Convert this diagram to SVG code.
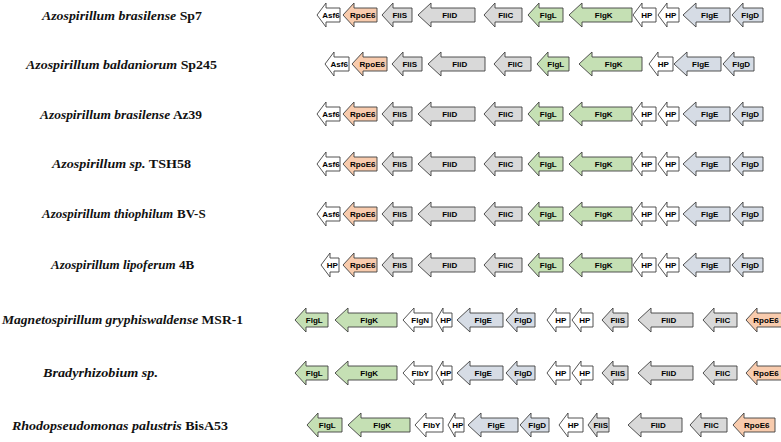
<svg xmlns="http://www.w3.org/2000/svg" width="781" height="442" viewBox="0 0 781 442">
<style>
.a{stroke:#404040;stroke-width:0.9;stroke-linejoin:miter}
.w{fill:#ffffff}.o{fill:#F8CBAD}.g{fill:#D9D9D9}.n{fill:#C5E0B4}.b{fill:#D6DCE5}
.t{font-family:"Liberation Sans",Arial,sans-serif;font-weight:bold;font-size:8px;fill:#000;text-anchor:middle}
.sp{font-family:"Liberation Serif","Times New Roman",serif;font-weight:bold;font-size:13px;fill:#111}
.i{font-style:italic}
</style>
<rect width="781" height="442" fill="#fff"/>
<g id="species-labels">
<text id="lab1" class="sp" x="42" y="20" textLength="160" lengthAdjust="spacingAndGlyphs"><tspan class="i">Azospirillum brasilense</tspan> Sp7</text>
<text id="lab2" class="sp" x="26" y="69" textLength="191" lengthAdjust="spacingAndGlyphs"><tspan class="i">Azospirillum baldaniorum</tspan> Sp245</text>
<text id="lab3" class="sp" x="40" y="119" textLength="162" lengthAdjust="spacingAndGlyphs"><tspan class="i">Azospirillum brasilense</tspan> Az39</text>
<text id="lab4" class="sp" x="52" y="168" textLength="139" lengthAdjust="spacingAndGlyphs"><tspan class="i">Azospirillum sp.</tspan> TSH58</text>
<text id="lab5a" class="sp i" x="42" y="218">Azospirillum thiophilum</text>
<text id="lab5b" class="sp" x="177" y="218">BV-S</text>
<text id="lab6a" class="sp i" x="51" y="269">Azospirillum lipoferum</text>
<text id="lab6b" class="sp" x="179" y="269">4B</text>
<text id="lab7" class="sp" x="2" y="324" textLength="241" lengthAdjust="spacingAndGlyphs"><tspan class="i">Magnetospirillum gryphiswaldense</tspan> MSR-1</text>
<text id="lab8" class="sp i" x="43" y="377" textLength="115" lengthAdjust="spacingAndGlyphs">Bradyrhizobium sp.</text>
<text id="lab9" class="sp" x="12" y="430" textLength="216" lengthAdjust="spacingAndGlyphs"><tspan class="i">Rhodopseudomonas palustris</tspan> BisA53</text>
</g>
<g id="connectors"/>

<g id="row1" transform="translate(0,15)">
<g id="r1-asf6"><path class="a w" d="M317,0 L326,-12 V-7 H340 V7 H326 V12 Z"/><text class="t" x="331" y="3">Asf6</text></g>
<g id="r1-rpoe6"><path class="a o" d="M343,0 L354,-12 V-7 H377 V7 H354 V12 Z"/><text class="t" x="362.75" y="3">RpoE6</text></g>
<g id="r1-flis"><path class="a g" d="M382,0 L393,-12 V-7 H412 V7 H393 V12 Z"/><text class="t" x="399.75" y="3">FliS</text></g>
<g id="r1-flid"><path class="a g" d="M418,0 L431,-12 V-7 H475 V7 H431 V12 Z"/><text class="t" x="449.75" y="3">FliD</text></g>
<g id="r1-flic"><path class="a g" d="M484,0 L495,-12 V-7 H522 V7 H495 V12 Z"/><text class="t" x="505.75" y="3">FliC</text></g>
<g id="r1-flgl"><path class="a n" d="M528,0 L539,-12 V-7 H563 V7 H539 V12 Z"/><text class="t" x="548.25" y="3">FlgL</text></g>
<g id="r1-flgk"><path class="a n" d="M569,0 L582,-12 V-7 H632 V7 H582 V12 Z"/><text class="t" x="603.75" y="3">FlgK</text></g>
<g id="r1-hp1"><path class="a w" d="M633,0 L642,-12 V-7 H656 V7 H642 V12 Z"/><text class="t" x="646.75" y="3">HP</text></g>
<g id="r1-hp2"><path class="a w" d="M658,0 L667,-12 V-7 H679 V7 H667 V12 Z"/><text class="t" x="670.75" y="3">HP</text></g>
<g id="r1-flge"><path class="a b" d="M683,0 L696,-12 V-7 H730 V7 H696 V12 Z"/><text class="t" x="709.75" y="3">FlgE</text></g>
<g id="r1-flgd"><path class="a b" d="M732,0 L743,-12 V-7 H763 V7 H743 V12 Z"/><text class="t" x="750.25" y="3">FlgD</text></g>
</g>

<g id="row2" transform="translate(0,64)">
<g id="r2-asf6"><path class="a w" d="M325,0 L334,-12 V-7 H349 V7 H334 V12 Z"/><text class="t" x="339.25" y="3">Asf6</text></g>
<g id="r2-rpoe6"><path class="a o" d="M352,0 L363,-12 V-7 H387 V7 H363 V12 Z"/><text class="t" x="372.25" y="3">RpoE6</text></g>
<g id="r2-flis"><path class="a g" d="M392,0 L403,-12 V-7 H422 V7 H403 V12 Z"/><text class="t" x="409.75" y="3">FliS</text></g>
<g id="r2-flid"><path class="a g" d="M428,0 L441,-12 V-7 H485 V7 H441 V12 Z"/><text class="t" x="459.75" y="3">FliD</text></g>
<g id="r2-flic"><path class="a g" d="M494,0 L505,-12 V-7 H531 V7 H505 V12 Z"/><text class="t" x="515.25" y="3">FliC</text></g>
<g id="r2-flgl"><path class="a n" d="M537,0 L548,-12 V-7 H569 V7 H548 V12 Z"/><text class="t" x="555.75" y="3">FlgL</text></g>
<g id="r2-flgk"><path class="a n" d="M579,0 L592,-12 V-7 H642 V7 H592 V12 Z"/><text class="t" x="613.75" y="3">FlgK</text></g>
<g id="r2-hp1"><path class="a w" d="M649,0 L658,-12 V-7 H673 V7 H658 V12 Z"/><text class="t" x="663.25" y="3">HP</text></g>
<g id="r2-flge"><path class="a b" d="M674,0 L687,-12 V-7 H721 V7 H687 V12 Z"/><text class="t" x="700.75" y="3">FlgE</text></g>
<g id="r2-flgd"><path class="a b" d="M723,0 L734,-12 V-7 H754 V7 H734 V12 Z"/><text class="t" x="741.25" y="3">FlgD</text></g>
</g>

<g id="row3" transform="translate(0,114)">
<g id="r3-asf6"><path class="a w" d="M317,0 L326,-12 V-7 H340 V7 H326 V12 Z"/><text class="t" x="331" y="3">Asf6</text></g>
<g id="r3-rpoe6"><path class="a o" d="M343,0 L354,-12 V-7 H377 V7 H354 V12 Z"/><text class="t" x="362.75" y="3">RpoE6</text></g>
<g id="r3-flis"><path class="a g" d="M382,0 L393,-12 V-7 H412 V7 H393 V12 Z"/><text class="t" x="399.75" y="3">FliS</text></g>
<g id="r3-flid"><path class="a g" d="M418,0 L431,-12 V-7 H475 V7 H431 V12 Z"/><text class="t" x="449.75" y="3">FliD</text></g>
<g id="r3-flic"><path class="a g" d="M484,0 L495,-12 V-7 H522 V7 H495 V12 Z"/><text class="t" x="505.75" y="3">FliC</text></g>
<g id="r3-flgl"><path class="a n" d="M528,0 L539,-12 V-7 H563 V7 H539 V12 Z"/><text class="t" x="548.25" y="3">FlgL</text></g>
<g id="r3-flgk"><path class="a n" d="M569,0 L582,-12 V-7 H632 V7 H582 V12 Z"/><text class="t" x="603.75" y="3">FlgK</text></g>
<g id="r3-hp1"><path class="a w" d="M633,0 L642,-12 V-7 H656 V7 H642 V12 Z"/><text class="t" x="646.75" y="3">HP</text></g>
<g id="r3-hp2"><path class="a w" d="M658,0 L667,-12 V-7 H679 V7 H667 V12 Z"/><text class="t" x="670.75" y="3">HP</text></g>
<g id="r3-flge"><path class="a b" d="M683,0 L696,-12 V-7 H730 V7 H696 V12 Z"/><text class="t" x="709.75" y="3">FlgE</text></g>
<g id="r3-flgd"><path class="a b" d="M732,0 L743,-12 V-7 H763 V7 H743 V12 Z"/><text class="t" x="750.25" y="3">FlgD</text></g>
</g>

<g id="row4" transform="translate(0,164)">
<g id="r4-asf6"><path class="a w" d="M317,0 L326,-12 V-7 H340 V7 H326 V12 Z"/><text class="t" x="331" y="3">Asf6</text></g>
<g id="r4-rpoe6"><path class="a o" d="M343,0 L354,-12 V-7 H377 V7 H354 V12 Z"/><text class="t" x="362.75" y="3">RpoE6</text></g>
<g id="r4-flis"><path class="a g" d="M382,0 L393,-12 V-7 H412 V7 H393 V12 Z"/><text class="t" x="399.75" y="3">FliS</text></g>
<g id="r4-flid"><path class="a g" d="M418,0 L431,-12 V-7 H475 V7 H431 V12 Z"/><text class="t" x="449.75" y="3">FliD</text></g>
<g id="r4-flic"><path class="a g" d="M484,0 L495,-12 V-7 H522 V7 H495 V12 Z"/><text class="t" x="505.75" y="3">FliC</text></g>
<g id="r4-flgl"><path class="a n" d="M528,0 L539,-12 V-7 H563 V7 H539 V12 Z"/><text class="t" x="548.25" y="3">FlgL</text></g>
<g id="r4-flgk"><path class="a n" d="M569,0 L582,-12 V-7 H632 V7 H582 V12 Z"/><text class="t" x="603.75" y="3">FlgK</text></g>
<g id="r4-hp1"><path class="a w" d="M633,0 L642,-12 V-7 H656 V7 H642 V12 Z"/><text class="t" x="646.75" y="3">HP</text></g>
<g id="r4-hp2"><path class="a w" d="M658,0 L667,-12 V-7 H679 V7 H667 V12 Z"/><text class="t" x="670.75" y="3">HP</text></g>
<g id="r4-flge"><path class="a b" d="M683,0 L696,-12 V-7 H730 V7 H696 V12 Z"/><text class="t" x="709.75" y="3">FlgE</text></g>
<g id="r4-flgd"><path class="a b" d="M732,0 L743,-12 V-7 H763 V7 H743 V12 Z"/><text class="t" x="750.25" y="3">FlgD</text></g>
</g>

<g id="row5" transform="translate(0,214)">
<g id="r5-asf6"><path class="a w" d="M317,0 L326,-12 V-7 H340 V7 H326 V12 Z"/><text class="t" x="331" y="3">Asf6</text></g>
<g id="r5-rpoe6"><path class="a o" d="M343,0 L354,-12 V-7 H377 V7 H354 V12 Z"/><text class="t" x="362.75" y="3">RpoE6</text></g>
<g id="r5-flis"><path class="a g" d="M382,0 L393,-12 V-7 H412 V7 H393 V12 Z"/><text class="t" x="399.75" y="3">FliS</text></g>
<g id="r5-flid"><path class="a g" d="M418,0 L431,-12 V-7 H475 V7 H431 V12 Z"/><text class="t" x="449.75" y="3">FliD</text></g>
<g id="r5-flic"><path class="a g" d="M484,0 L495,-12 V-7 H522 V7 H495 V12 Z"/><text class="t" x="505.75" y="3">FliC</text></g>
<g id="r5-flgl"><path class="a n" d="M528,0 L539,-12 V-7 H563 V7 H539 V12 Z"/><text class="t" x="548.25" y="3">FlgL</text></g>
<g id="r5-flgk"><path class="a n" d="M569,0 L582,-12 V-7 H632 V7 H582 V12 Z"/><text class="t" x="603.75" y="3">FlgK</text></g>
<g id="r5-hp1"><path class="a w" d="M633,0 L642,-12 V-7 H656 V7 H642 V12 Z"/><text class="t" x="646.75" y="3">HP</text></g>
<g id="r5-hp2"><path class="a w" d="M658,0 L667,-12 V-7 H679 V7 H667 V12 Z"/><text class="t" x="670.75" y="3">HP</text></g>
<g id="r5-flge"><path class="a b" d="M683,0 L696,-12 V-7 H730 V7 H696 V12 Z"/><text class="t" x="709.75" y="3">FlgE</text></g>
<g id="r5-flgd"><path class="a b" d="M732,0 L743,-12 V-7 H763 V7 H743 V12 Z"/><text class="t" x="750.25" y="3">FlgD</text></g>
</g>

<g id="row6" transform="translate(0,265)">
<g id="r6-hp0"><path class="a w" d="M321,0 L330,-12 V-7 H339 V7 H330 V12 Z"/><text class="t" x="332.25" y="3">HP</text></g>
<g id="r6-rpoe6"><path class="a o" d="M343,0 L354,-12 V-7 H377 V7 H354 V12 Z"/><text class="t" x="362.75" y="3">RpoE6</text></g>
<g id="r6-flis"><path class="a g" d="M382,0 L393,-12 V-7 H412 V7 H393 V12 Z"/><text class="t" x="399.75" y="3">FliS</text></g>
<g id="r6-flid"><path class="a g" d="M418,0 L431,-12 V-7 H475 V7 H431 V12 Z"/><text class="t" x="449.75" y="3">FliD</text></g>
<g id="r6-flic"><path class="a g" d="M484,0 L495,-12 V-7 H522 V7 H495 V12 Z"/><text class="t" x="505.75" y="3">FliC</text></g>
<g id="r6-flgl"><path class="a n" d="M528,0 L539,-12 V-7 H563 V7 H539 V12 Z"/><text class="t" x="548.25" y="3">FlgL</text></g>
<g id="r6-flgk"><path class="a n" d="M569,0 L582,-12 V-7 H632 V7 H582 V12 Z"/><text class="t" x="603.75" y="3">FlgK</text></g>
<g id="r6-hp1"><path class="a w" d="M633,0 L642,-12 V-7 H656 V7 H642 V12 Z"/><text class="t" x="646.75" y="3">HP</text></g>
<g id="r6-hp2"><path class="a w" d="M658,0 L667,-12 V-7 H679 V7 H667 V12 Z"/><text class="t" x="670.75" y="3">HP</text></g>
<g id="r6-flge"><path class="a b" d="M683,0 L696,-12 V-7 H730 V7 H696 V12 Z"/><text class="t" x="709.75" y="3">FlgE</text></g>
<g id="r6-flgd"><path class="a b" d="M732,0 L743,-12 V-7 H763 V7 H743 V12 Z"/><text class="t" x="750.25" y="3">FlgD</text></g>
</g>

<g id="row7" transform="translate(0,320)">
<g id="r7-flgl"><path class="a n" d="M295,0 L306,-12 V-7 H328 V7 H306 V12 Z"/><text class="t" x="314.25" y="3">FlgL</text></g>
<g id="r7-flgk"><path class="a n" d="M335,0 L348,-12 V-7 H397 V7 H348 V12 Z"/><text class="t" x="369.25" y="3">FlgK</text></g>
<g id="r7-flgn"><path class="a w" d="M403,0 L414,-12 V-7 H432 V7 H414 V12 Z"/><text class="t" x="420.25" y="3">FlgN</text></g>
<g id="r7-hp1"><path class="a w" d="M436,0 L443,-12 V-7 H452 V7 H443 V12 Z"/><text class="t" x="445.75" y="3">HP</text></g>
<g id="r7-flge"><path class="a b" d="M457,0 L470,-12 V-7 H503 V7 H470 V12 Z"/><text class="t" x="483.25" y="3">FlgE</text></g>
<g id="r7-flgd"><path class="a b" d="M506,0 L517,-12 V-7 H535 V7 H517 V12 Z"/><text class="t" x="523.25" y="3">FlgD</text></g>
<g id="r7-hp2"><path class="a w" d="M547,0 L556,-12 V-7 H570 V7 H556 V12 Z"/><text class="t" x="560.75" y="3">HP</text></g>
<g id="r7-hp3"><path class="a w" d="M572,0 L581,-12 V-7 H593 V7 H581 V12 Z"/><text class="t" x="584.75" y="3">HP</text></g>
<g id="r7-flis"><path class="a g" d="M602,0 L613,-12 V-7 H628 V7 H613 V12 Z"/><text class="t" x="617.75" y="3">FliS</text></g>
<g id="r7-flid"><path class="a g" d="M638,0 L651,-12 V-7 H693 V7 H651 V12 Z"/><text class="t" x="668.75" y="3">FliD</text></g>
<g id="r7-flic"><path class="a g" d="M703,0 L714,-12 V-7 H737 V7 H714 V12 Z"/><text class="t" x="722.75" y="3">FliC</text></g>
<g id="r7-rpoe6"><path class="a o" d="M746,0 L757,-12 V-7 H790 V7 H757 V12 Z"/><text class="t" x="766" y="3">RpoE6</text></g>
</g>

<g id="row8" transform="translate(0,373)">
<g id="r8-flgl"><path class="a n" d="M295,0 L306,-12 V-7 H328 V7 H306 V12 Z"/><text class="t" x="314.25" y="3">FlgL</text></g>
<g id="r8-flgk"><path class="a n" d="M335,0 L348,-12 V-7 H397 V7 H348 V12 Z"/><text class="t" x="369.25" y="3">FlgK</text></g>
<g id="r8-flby"><path class="a w" d="M403,0 L414,-12 V-7 H432 V7 H414 V12 Z"/><text class="t" x="420.25" y="3">FlbY</text></g>
<g id="r8-hp1"><path class="a w" d="M436,0 L443,-12 V-7 H452 V7 H443 V12 Z"/><text class="t" x="445.75" y="3">HP</text></g>
<g id="r8-flge"><path class="a b" d="M457,0 L470,-12 V-7 H503 V7 H470 V12 Z"/><text class="t" x="483.25" y="3">FlgE</text></g>
<g id="r8-flgd"><path class="a b" d="M506,0 L517,-12 V-7 H535 V7 H517 V12 Z"/><text class="t" x="523.25" y="3">FlgD</text></g>
<g id="r8-hp2"><path class="a w" d="M547,0 L556,-12 V-7 H570 V7 H556 V12 Z"/><text class="t" x="560.75" y="3">HP</text></g>
<g id="r8-hp3"><path class="a w" d="M572,0 L581,-12 V-7 H593 V7 H581 V12 Z"/><text class="t" x="584.75" y="3">HP</text></g>
<g id="r8-flis"><path class="a g" d="M602,0 L613,-12 V-7 H628 V7 H613 V12 Z"/><text class="t" x="617.75" y="3">FliS</text></g>
<g id="r8-flid"><path class="a g" d="M638,0 L651,-12 V-7 H693 V7 H651 V12 Z"/><text class="t" x="668.75" y="3">FliD</text></g>
<g id="r8-flic"><path class="a g" d="M703,0 L714,-12 V-7 H737 V7 H714 V12 Z"/><text class="t" x="722.75" y="3">FliC</text></g>
<g id="r8-rpoe6"><path class="a o" d="M746,0 L757,-12 V-7 H790 V7 H757 V12 Z"/><text class="t" x="766" y="3">RpoE6</text></g>
</g>

<g id="row9" transform="translate(0,425)">
<g id="r9-flgl"><path class="a n" d="M307,0 L318,-12 V-7 H342 V7 H318 V12 Z"/><text class="t" x="327.25" y="3">FlgL</text></g>
<g id="r9-flgk"><path class="a n" d="M348,0 L361,-12 V-7 H410 V7 H361 V12 Z"/><text class="t" x="382.25" y="3">FlgK</text></g>
<g id="r9-flby"><path class="a w" d="M415,0 L426,-12 V-7 H443 V7 H426 V12 Z"/><text class="t" x="431.75" y="3">FlbY</text></g>
<g id="r9-hp1"><path class="a w" d="M448,0 L455,-12 V-7 H464 V7 H455 V12 Z"/><text class="t" x="457.75" y="3">HP</text></g>
<g id="r9-flge"><path class="a b" d="M468,0 L481,-12 V-7 H518 V7 H481 V12 Z"/><text class="t" x="496.25" y="3">FlgE</text></g>
<g id="r9-flgd"><path class="a b" d="M520,0 L531,-12 V-7 H549 V7 H531 V12 Z"/><text class="t" x="537.25" y="3">FlgD</text></g>
<g id="r9-hp2"><path class="a w" d="M559,0 L568,-12 V-7 H583 V7 H568 V12 Z"/><text class="t" x="573.25" y="3">HP</text></g>
<g id="r9-flis"><path class="a g" d="M588,0 L597,-12 V-7 H609 V7 H597 V12 Z"/><text class="t" x="600.75" y="3">FliS</text></g>
<g id="r9-flid"><path class="a g" d="M628,0 L641,-12 V-7 H682 V7 H641 V12 Z"/><text class="t" x="658.25" y="3">FliD</text></g>
<g id="r9-flic"><path class="a g" d="M690,0 L701,-12 V-7 H727 V7 H701 V12 Z"/><text class="t" x="711.25" y="3">FliC</text></g>
<g id="r9-rpoe6"><path class="a o" d="M733,0 L744,-12 V-7 H775 V7 H744 V12 Z"/><text class="t" x="756.75" y="3">RpoE6</text></g>
</g>
</svg>
